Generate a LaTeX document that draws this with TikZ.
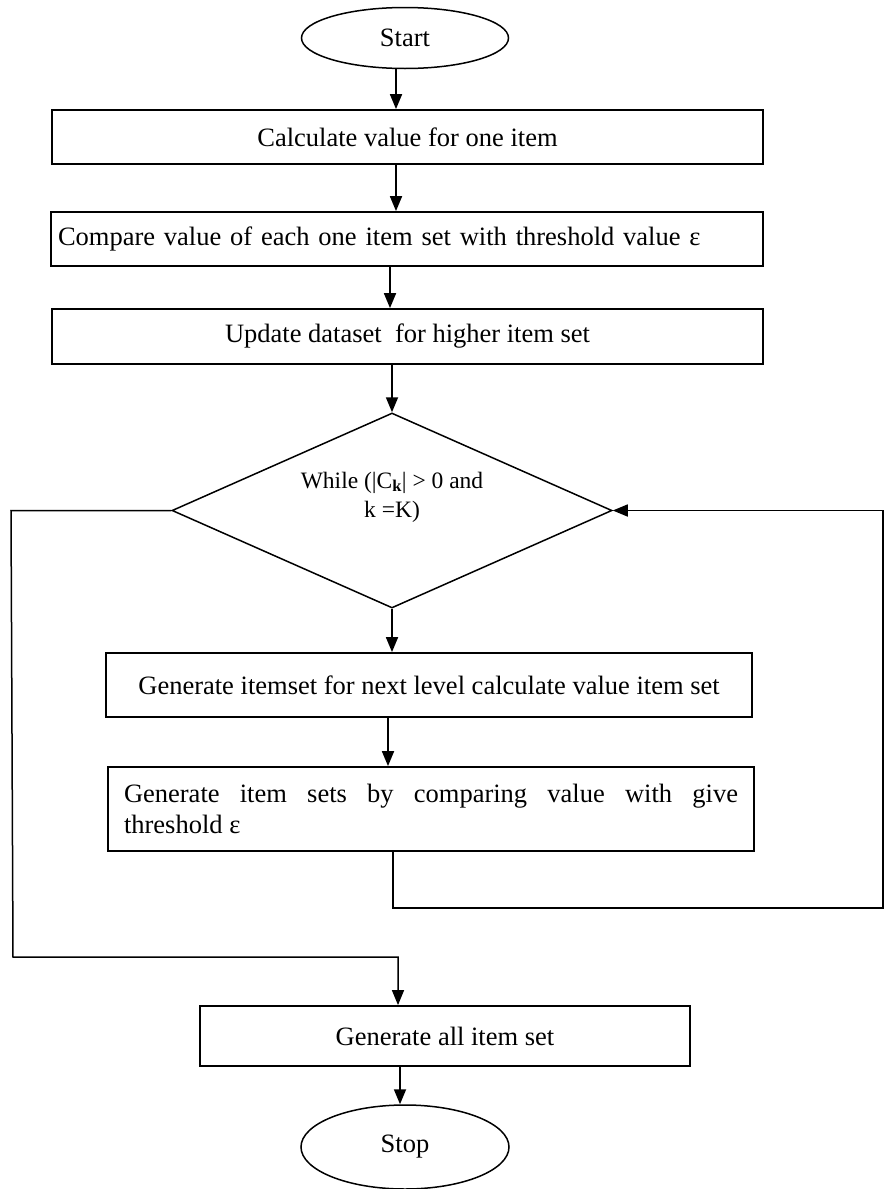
\documentclass[tikz,border=0pt]{standalone}
\usepackage{fontspec}
\setmainfont{Liberation Serif}
\usetikzlibrary{shapes.geometric,arrows.meta}
\begin{document}
\begin{tikzpicture}[x=1pt,y=-1pt,
  every node/.style={font=\fontsize{26.5}{27}\selectfont},
  stepbox/.style={draw,line width=1.8pt,rectangle,inner sep=0pt},
  term/.style={draw,line width=1.5pt,ellipse,inner sep=0pt},
  dec/.style={draw,line width=1.5pt,diamond,inner sep=0pt,shape aspect=2.26,minimum width=440pt,minimum height=195pt},
  conn/.style={line width=1.8pt,-{Triangle[length=15pt,width=12pt]}},
  plain/.style={line width=1.5pt}]
\path[use as bounding box,fill=white] (0,0) rectangle (885,1189);

\node[term,minimum width=207pt,minimum height=61pt] (start) at (405,38) {Start};
\node[stepbox,minimum width=711pt,minimum height=54pt] (b1) at (407.5,137) {Calculate value for one item};
\node[stepbox,minimum width=712pt,minimum height=54pt,text width=698pt,align=left] (b2) at (407,239) {Compare value of each one item set with threshold value ε};
\node[stepbox,minimum width=711pt,minimum height=55pt] (b3) at (407.5,336.5) {Update dataset \ for higher item set};
\node[dec] (d) at (392,510.5) {};
\node[font=\fontsize{23.5}{29}\selectfont,align=center] (dt) at (392,497) {While (|C\textsubscript{\textbf{k}}| > 0 and\\k =K)};
\node[stepbox,minimum width=646pt,minimum height=64pt] (b4) at (429,685) {Generate itemset for next level calculate value item set};
\node[stepbox,minimum width=646pt,minimum height=84pt,text width=614pt,align=justify,font=\fontsize{26.5}{31}\selectfont] (b5) at (431,809) {Generate item sets by comparing value with give\linebreak threshold ε};
\node[stepbox,minimum width=490pt,minimum height=60pt] (b6) at (445,1036) {Generate all item set};
\node[term,minimum width=208pt,minimum height=84pt] (stop) at (405,1147) {Stop};

\coordinate (xa) at (396,0);
\coordinate (xb) at (390,0);
\coordinate (xc) at (388,0);
\coordinate (xd) at (393,0);
\coordinate (xe) at (398,0);
\coordinate (xf) at (400,0);

\draw[conn] (start.south -| xa) -- (b1.north -| xa);
\draw[conn] (b1.south -| xa) -- (b2.north -| xa);
\draw[conn] (b2.south -| xb) -- (b3.north -| xb);
\draw[conn] (b3.south -| d.north) -- (d.north);
\draw[conn] (d.south) -- (b4.north -| d.south);
\draw[conn] (b4.south -| xc) -- (b5.north -| xc);

\coordinate (r1) at (393,908);
\coordinate (r2) at (883,908);
\coordinate (r3) at (883,510.5);
\draw[plain,-{Triangle[length=15pt,width=12pt]}] (b5.south -| xd) -- (r1) -- (r2) -- (r3) -- (d.east);

\coordinate (l1) at (11,510.5);
\coordinate (l2) at (13,957);
\coordinate (l3) at (398,957);
\draw[plain,-{Triangle[length=15pt,width=12pt]}] (d.west) -- (l1) -- (l2) -- (l3) -- (b6.north -| xe);

\draw[conn] (b6.south -| xf) -- (stop.north -| xf);
\end{tikzpicture}
\end{document}
